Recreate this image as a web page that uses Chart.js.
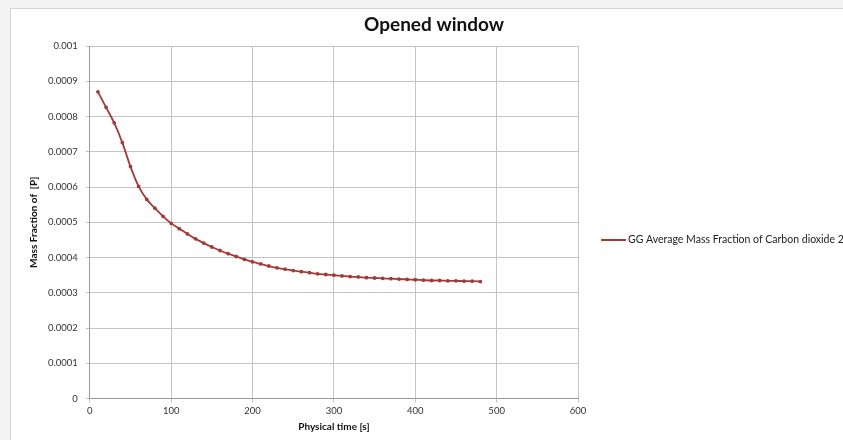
<!DOCTYPE html>
<html>
<head>
<meta charset="utf-8">
<script src="https://cdn.jsdelivr.net/npm/chart.js@4"></script>
<style>
  html, body { margin: 0; padding: 0; background: #f3f3f3; }
  #frame { position: absolute; left: 10px; top: 8px; width: 900px; height: 500px; background: #fff; border: 1px solid #d4d4d4; }
  #wrap { position: absolute; left: 0; top: 0; width: 843px; height: 440px; }
</style>
</head>
<body>
<div id="frame"></div>
<div id="wrap"><canvas id="chart"></canvas></div>
<script>
// physical time [s]
var times = [10, 20, 30, 40, 50, 60, 70, 80, 90, 100,
             110, 120, 130, 140, 150, 160, 170, 180, 190, 200,
             210, 220, 230, 240, 250, 260, 270, 280, 290, 300,
             310, 320, 330, 340, 350, 360, 370, 380, 390, 400,
             410, 420, 430, 440, 450, 460, 470, 480];
// mass fraction of CO2
var massFraction = [0.000870, 0.000826, 0.000782, 0.000726, 0.000658, 0.000602, 0.000565, 0.000540, 0.000517, 0.000497,
                    0.000482, 0.000467, 0.000453, 0.000441, 0.000430, 0.000420, 0.000411, 0.000403, 0.000395, 0.000388,
                    0.000382, 0.000376, 0.000371, 0.000367, 0.000363, 0.000360, 0.000357, 0.000354, 0.000352, 0.000350,
                    0.000348, 0.000346, 0.000345, 0.000343, 0.000342, 0.000341, 0.000340, 0.000339, 0.000338, 0.000337,
                    0.000336, 0.000335, 0.000335, 0.000334, 0.000334, 0.000333, 0.000333, 0.000332];
var seriesName = "GG Average Mass Fraction of Carbon dioxide 2";
var chartTitle = "Opened window";

var points = times.map(function(t, i) { return {x: t, y: massFraction[i]}; });
var lineColor = "#a33a3a";
var fontFam = "Lato, 'Open Sans', sans-serif";

// title + legend drawn by hand so the plot area can sit where excel put it
var sideBits = {
    id: 'sideBits',
    afterDraw: function(chart) {
        var ctx = chart.ctx;
        ctx.save();
        ctx.fillStyle = "#111";
        ctx.font = "bold 19px " + fontFam;
        ctx.textAlign = "center";
        ctx.textBaseline = "middle";
        ctx.fillText(chartTitle, 434, 25);

        var ly = 240;
        ctx.strokeStyle = lineColor;
        ctx.lineWidth = 2;
        ctx.beginPath();
        ctx.moveTo(601, ly);
        ctx.lineTo(626, ly);
        ctx.stroke();
        ctx.fillStyle = lineColor;
        ctx.beginPath();
        ctx.arc(613.5, ly, 1.2, 0, Math.PI * 2);
        ctx.fill();
        ctx.fillStyle = "#222";
        ctx.font = "10.5px " + fontFam;
        ctx.textAlign = "left";
        ctx.fillText(seriesName, 628, ly);
        ctx.restore();
    }
};

new Chart(document.getElementById("chart"), {
    type: 'line',
    data: {
        datasets: [{
            label: seriesName,
            data: points,
            borderColor: lineColor,
            backgroundColor: lineColor,
            borderWidth: 1.8,
            pointRadius: 1,
            pointHoverRadius: 1.5,
            tension: 0.3
        }]
    },
    options: {
        responsive: true,
        maintainAspectRatio: false,
        animation: false,
        layout: { padding: { left: 28, right: 265, top: 46, bottom: 6 } },
        plugins: {
            title: { display: false },
            legend: { display: false },
            tooltip: { enabled: false }
        },
        scales: {
            x: {
                type: 'linear',
                min: 0,
                max: 600,
                ticks: { stepSize: 100, color: "#333", font: { family: fontFam, size: 9.5 } },
                grid: { color: "#c4c4c4", tickLength: 4 },
                border: { color: "#999" },
                title: { display: true, text: "Physical time [s]", color: "#111", font: { family: fontFam, size: 10, weight: 'bold' }, padding: 1 }
            },
            y: {
                min: 0,
                max: 0.001,
                ticks: {
                    stepSize: 0.0001,
                    color: "#333",
                    font: { family: fontFam, size: 9.5 },
                    padding: 8,
                    callback: function(v) { return v === 0 ? "0" : String(+v.toFixed(4)); }
                },
                grid: { color: "#c4c4c4", tickLength: 4 },
                border: { color: "#999" },
                title: { display: true, text: "Mass Fraction of  [P]", color: "#111", font: { family: fontFam, size: 10, weight: 'bold' }, padding: 0 }
            }
        }
    },
    plugins: [sideBits]
});
</script>
</body>
</html>
